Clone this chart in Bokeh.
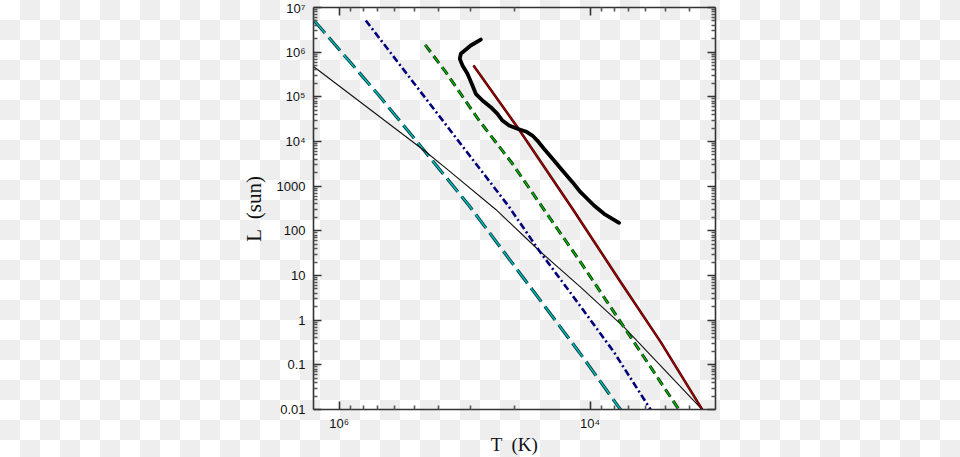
from bokeh.plotting import figure
from bokeh.models import LogAxis, FixedTicker, Range1d, CustomJSTickFormatter, InlineStyleSheet
from bokeh.embed import file_html
from bokeh.resources import INLINE

# ---- tick values / labels ----
y_ticks = [1e-2, 1e-1, 1.0, 10.0, 100.0, 1000.0, 1e4, 1e5, 1e6, 1e7]
y_tick_labels = ["0.01", "0.1", "1", "10", "100", "1000", "10\u2074", "10\u2075", "10\u2076", "10\u2077"]
y_minor = [k * 10.0 ** e for e in range(-2, 7) for k in range(2, 10)]
x_ticks = [1e6, 1e4]
x_tick_labels = ["10\u2076", "10\u2074"]
x_minor = [8.1e5, 6.4e5, 4.9e5, 3.6e5, 2.5e5, 1.6e5, 9e4, 4e4,
           8100, 6400, 4900, 3600, 2500, 1600]

# ---- series (T in K, L in solar units) ----
teal_T = [1.59e6, 4.94e5, 2.10e5, 9.21e4, 1.22e4, 5.69e3]
teal_L = [5.2e6, 1.17e5, 6.29e3, 369, 0.192, 0.0098]

thin_T = [1.6e6, 2.10e5, 1.41e5, 5.64e4, 2.55e4, 1.19e4, 5.36e3, 1.27e3]
thin_L = [4.78e5, 6.29e3, 2.53e3, 301, 36.3, 5.48, 0.697, 0.0098]

blue_T = [6.13e5, 1.46e5, 4.44e4, 2.55e4, 1.19e4, 6.44e3, 3.28e3]
blue_L = [5.12e6, 2.71e4, 351, 36.3, 2.03, 0.192, 0.0098]

green_T = [2.06e5, 1.41e5, 7.66e4, 4.15e4, 2.40e4, 1.19e4, 5.36e3, 1.95e3]
green_L = [1.46e6, 3.56e5, 2.95e4, 3.17e3, 338, 19.9, 0.697, 0.0098]

red_T = [8.49e4, 3.79e4, 1.38e4, 5.69e3, 2.73e3, 1.27e3]
red_L = [5.03e5, 2.09e4, 312, 7.09, 0.322, 0.0098]

track_T = [7.43e4, 8.93e4, 1.072e5, 1.092e5, 1.039e5, 9.48e4, 8.65e4, 8.14e4, 7.20e4,
           6.18e4, 5.47e4, 4.99e4, 4.42e4, 3.79e4, 3.25e4, 2.88e4, 2.63e4, 2.33e4,
           1.99e4, 1.66e4, 1.38e4, 1.19e4, 9.29e3, 7.73e3, 5.87e3]
track_L = [1.92e6, 1.41e6, 9.19e5, 7.10e5, 5.03e5, 3.28e5, 1.80e5, 1.17e5, 8.28e4,
           5.86e4, 4.17e4, 2.95e4, 2.28e4, 1.93e4, 1.68e4, 1.36e4, 1.05e4, 6.87e3,
           4.10e3, 2.24e3, 1.23e3, 733, 369, 241, 151]

TILE = ("url(\"data:image/svg+xml;utf8,<svg xmlns='http://www.w3.org/2000/svg' width='40' height='40'>"
        "<rect width='40' height='40' fill='%23ffffff'/>"
        "<rect x='20' y='0' width='20' height='20' fill='%23eeeeee'/>"
        "<rect x='0' y='20' width='20' height='20' fill='%23eeeeee'/></svg>\")")
CHECKER = ("background-color: #ffffff; background-image: " + TILE + "; "
           "background-size: 40px 40px; background-position: 0 0; background-repeat: repeat;")

p = figure(width=960, height=457, frame_width=402, frame_height=402,
           x_axis_type="log", y_axis_type="log",
           x_range=Range1d(1.6e6, 1e3), y_range=Range1d(1e-2, 1e7),
           min_border_left=313, min_border_right=245, min_border_top=7, min_border_bottom=48,
           output_backend="svg", toolbar_location=None,
           background_fill_color=None, border_fill_color=None, outline_line_color=None)
p.stylesheets = [InlineStyleSheet(css=":host { " + CHECKER + " } .bk-Canvas { " + CHECKER + " }")]
p.grid.visible = False

FMT_CODE = """
let out = "";
for (let i = 0; i < vals.length; i++) {
  if (Math.abs(Math.log10(tick) - Math.log10(vals[i])) < 1e-6) { out = labs[i]; }
}
return out;
"""

def style_axis(ax, ticks, minor, labels, show):
    ax.ticker = FixedTicker(ticks=ticks, minor_ticks=minor)
    ax.major_tick_in = 8
    ax.major_tick_out = 0
    ax.minor_tick_in = 4
    ax.minor_tick_out = 0
    ax.axis_line_color = "#333333"
    ax.axis_line_width = 1.6
    ax.major_tick_line_color = "#333333"
    ax.major_tick_line_width = 1.6
    ax.minor_tick_line_color = "#555555"
    ax.minor_tick_line_width = 1.6
    if show:
        ax.formatter = CustomJSTickFormatter(args=dict(vals=ticks, labs=labels), code=FMT_CODE)
        ax.major_label_text_font = "Liberation Sans"
        ax.major_label_text_font_size = "13px"
        ax.major_label_text_color = "#111111"
        ax.axis_label_text_font = "Liberation Serif"
        ax.axis_label_text_font_size = "20px"
        ax.axis_label_text_font_style = "normal"
        ax.axis_label_text_color = "#111111"
    else:
        ax.formatter = CustomJSTickFormatter(code="return '';")
        ax.major_label_text_font_size = "1px"
        ax.major_label_standoff = 0
        ax.axis_label = None

xb = p.xaxis[0]
yl = p.yaxis[0]
style_axis(xb, x_ticks, x_minor, x_tick_labels, True)
style_axis(yl, y_ticks, y_minor, y_tick_labels, True)
xb.axis_label = "T \u00a0(K)"
yl.axis_label = "L \u00a0(sun)"
xb.axis_label_text_font_size = "19px"
xb.major_label_standoff = 6
xb.axis_label_standoff = 0
yl.axis_label_text_font_size = "21px"
yl.major_label_standoff = 8
yl.axis_label_standoff = 8

xt = LogAxis()
style_axis(xt, x_ticks, x_minor, x_tick_labels, False)
p.add_layout(xt, "above")
yr = LogAxis()
style_axis(yr, y_ticks, y_minor, y_tick_labels, False)
p.add_layout(yr, "right")

# teal long dash (dark edge + cyan core)
p.line(teal_T, teal_L, line_color="#0a3a3a", line_width=3.2, line_dash="17 6")
p.line(teal_T, teal_L, line_color="#00c8c8", line_width=1.3, line_dash="17 6")
# thin black
p.line(thin_T, thin_L, line_color="#111111", line_width=1.1)
# navy dash-dot
p.line(blue_T, blue_L, line_color="#00007a", line_width=2.6, line_dash="7 3 2 3")
# green dashed
p.line(green_T, green_L, line_color="#0a2a0a", line_width=3.0, line_dash="9 5")
p.line(green_T, green_L, line_color="#00cc00", line_width=1.2, line_dash="9 5")
# dark red solid
p.line(red_T, red_L, line_color="#4a0000", line_width=2.6)
p.line(red_T, red_L, line_color="#c00000", line_width=1.0)
# thick black track
p.line(track_T, track_L, line_color="#000000", line_width=3.8, line_join="round", line_cap="round")

open("out.html", "w").write(file_html(p, INLINE))
